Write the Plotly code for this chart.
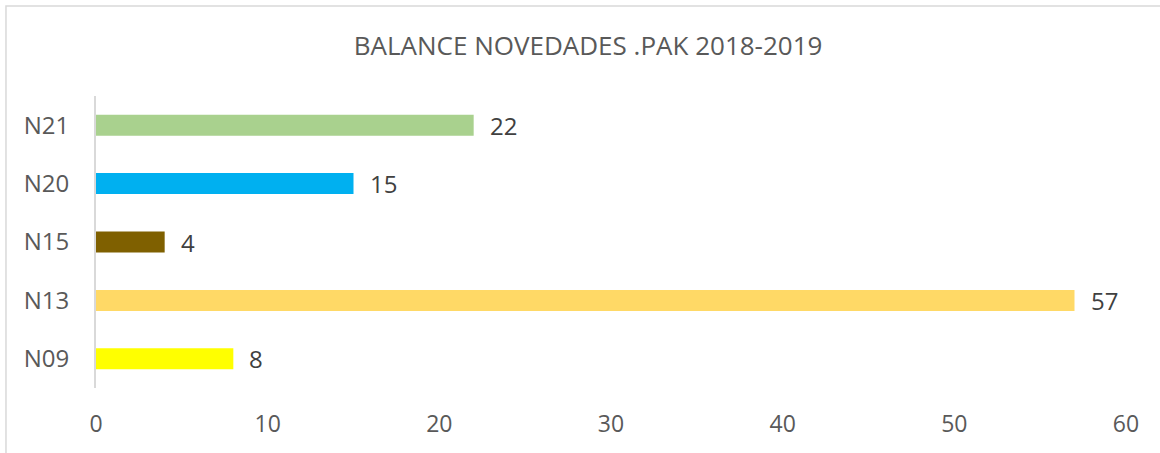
import plotly.graph_objects as go

categories = ["N09", "N13", "N15", "N20", "N21"]
values = [8, 57, 4, 15, 22]
colors = ["#FFFF00", "#FFD966", "#7F6000", "#00B0F0", "#A9D18E"]
x_ticks = [0, 10, 20, 30, 40, 50, 60]
title_text = "BALANCE NOVEDADES .PAK 2018-2019"

FONT = "Open Sans"

fig = go.Figure()
fig.add_trace(go.Bar(
    y=categories, x=values, orientation="h",
    marker=dict(color=colors, line=dict(width=0)),
    width=0.36,
    hoverinfo="x+y",
))

for c, v in zip(categories, values):
    fig.add_annotation(x=v, y=c, text=str(v), showarrow=False,
                       xanchor="left", yanchor="middle", xshift=14, yshift=0,
                       font=dict(family=FONT, size=24, color="#404040"))

fig.add_shape(type="rect", xref="paper", yref="paper",
              x0=-0.0874, x1=1.2, y0=-0.4, y1=1.308,
              line=dict(color="#D9D9D9", width=1.5), fillcolor="rgba(0,0,0,0)",
              layer="below")

fig.update_layout(
    width=1160, height=453,
    margin=dict(l=96, r=34, t=96, b=65),
    paper_bgcolor="white", plot_bgcolor="white",
    showlegend=False,
    title=dict(text=title_text, x=0.507, xanchor="center", y=0.898, yanchor="middle",
               font=dict(family=FONT, size=26, color="#595959")),
    xaxis=dict(range=[0, 60], tickvals=x_ticks, showgrid=False, zeroline=False,
               showline=False, ticks="", ticklabelstandoff=20,
               tickfont=dict(family=FONT, size=23, color="#595959")),
    yaxis=dict(showgrid=False, zeroline=False, showline=True, linecolor="#D9D9D9",
               linewidth=2, ticks="", ticklabelstandoff=20,
               categoryorder="array", categoryarray=categories,
               tickfont=dict(family=FONT, size=24, color="#595959")),
)

fig.write_html("out.html", config={"displayModeBar": False},
               post_script="document.body.style.margin='0px';")
